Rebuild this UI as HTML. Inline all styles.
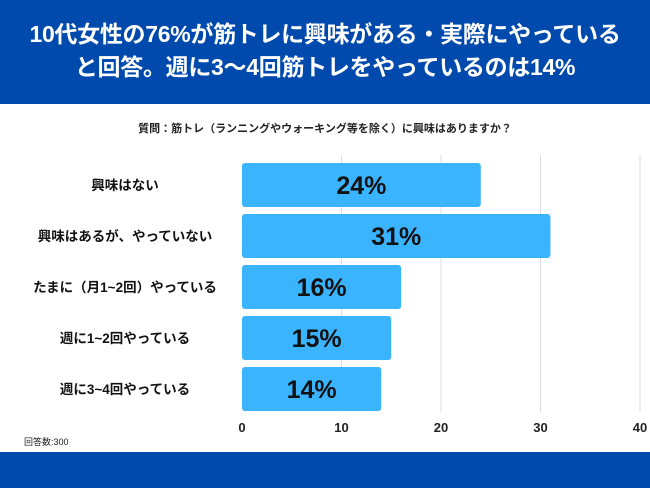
<!DOCTYPE html>
<html><head><meta charset="utf-8">
<style>
body{margin:0;width:650px;height:488px;overflow:hidden;background:#fff;font-family:"Liberation Sans","Noto Sans CJK JP",sans-serif;}
#hdr{position:absolute;left:0;top:0;width:650px;height:104px;background:#004aad;color:#fff;font-weight:bold;font-size:23px;line-height:33px;text-align:center;padding-top:18px;box-sizing:border-box;white-space:nowrap;letter-spacing:-0.3px;}
#ftr{position:absolute;left:0;top:452px;width:650px;height:36px;background:#004aad;}
#q{position:absolute;top:120px;left:0;width:650px;text-align:center;font-size:11px;font-weight:bold;color:#222;}
#n{position:absolute;top:435px;left:24px;font-size:9px;color:#222;}
svg{position:absolute;left:0;top:0;}
</style></head><body>
<div id="hdr">10代女性の76%が筋トレに興味がある・実際にやっている<br>と回答。週に3〜4回筋トレをやっているのは14%</div>
<div id="q">質問：筋トレ（ランニングやウォーキング等を除く）に興味はありますか？</div>
<div id="n">回答数:300</div>
<div id="ftr"></div>
<svg id="chart" width="650" height="488"></svg>
<script>
const categories=["興味はない","興味はあるが、やっていない","たまに（月1~2回）やっている","週に1~2回やっている","週に3~4回やっている"];
const values=[24,31,16,15,14];
const ticks=[0,10,20,30,40];
const NS="http://www.w3.org/2000/svg";
const svg=document.getElementById("chart");
const x0=242,sx=9.95,y0=163,step=51,bh=44;
const X=v=>x0+v*sx;
function mk(t,a){const e=document.createElementNS(NS,t);for(const k in a)e.setAttribute(k,a[k]);svg.appendChild(e);return e;}
ticks.forEach(t=>{
  if(t>0){const g=mk("line",{x1:X(t),x2:X(t),y1:155,y2:412,stroke:"#dcdcdc","stroke-width":1});
  
  }
  const l=mk("text",{x:X(t),y:432,"text-anchor":"middle","font-size":13,"font-weight":"bold",fill:"#222"});
  l.textContent=t;
  
  
});
categories.forEach((c,i)=>{
  const y=y0+i*step;
  const r=mk("rect",{x:x0,y:y,width:X(values[i])-x0,height:bh,rx:3,fill:"#3bb4ff"});
  
  
  const v=mk("text",{x:(x0+X(values[i]))/2,y:y+bh/2+9,"text-anchor":"middle","font-size":25,"font-weight":"bold",fill:"#111"});
  v.textContent=values[i]+"%";
  
  
  const t=mk("text",{x:125,y:y+bh/2+5,"text-anchor":"middle","font-size":13.5,"font-weight":"bold",fill:"#111"});
  t.textContent=c;
  
  
});
</script>
</body></html>
